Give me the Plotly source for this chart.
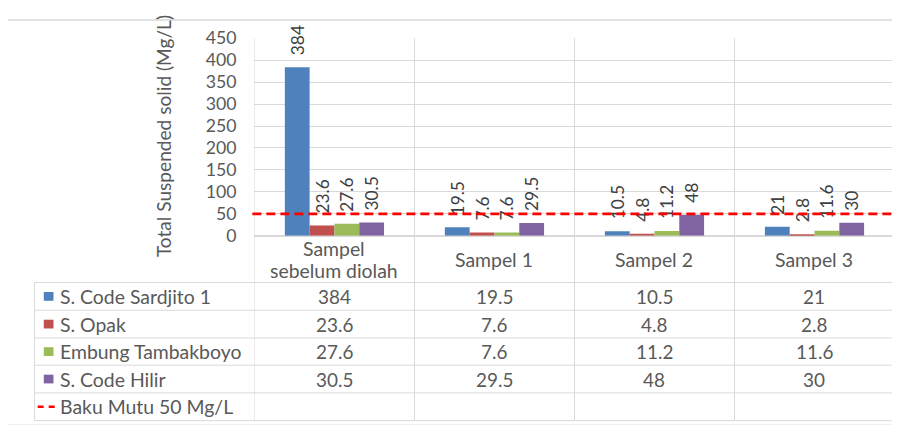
import plotly.graph_objects as go

# ---- data ----
categories = ["Sampel<br>sebelum diolah", "Sampel 1", "Sampel 2", "Sampel 3"]
series_names = ["S. Code Sardjito 1", "S. Opak", "Embung Tambakboyo", "S. Code Hilir"]
sardjito = [384, 19.5, 10.5, 21]
opak = [23.6, 7.6, 4.8, 2.8]
tambakboyo = [27.6, 7.6, 11.2, 11.6]
hilir = [30.5, 29.5, 48, 30]
baku_mutu_name = "Baku Mutu 50 Mg/L"
baku_mutu = 50
y_ticks = [0, 50, 100, 150, 200, 250, 300, 350, 400, 450]
y_title = "Total Suspended solid (Mg/L)"

series_values = [sardjito, opak, tambakboyo, hilir]
colors = ["#4F81BD", "#C0504D", "#9BBB59", "#8064A2"]

W, H = 900, 429
FONT = "Lato"
TXT = "#595959"
GRID = "#d9d9d9"

# the page is shown scaled and offset; map target pixel positions to paper coords
S, OX, OY = 0.978, 20, 8


def px(x):
    return ((x - OX) / S) / W


def py(y):
    return 1 - ((y - OY) / S) / H


def fs(size):
    return size / S


PLOT_L, PLOT_R, PLOT_T, PLOT_B = 261, 887, 27.7, 231
TABLE_L = 46
row_lines = [279, 307.5, 336, 364, 392.5, 421]
NB = "\u00a0\u00a0"

fig = go.Figure()
xs = list(range(len(categories)))
for name, vals, col in zip(series_names, series_values, colors):
    fig.add_trace(go.Bar(
        x=xs, y=vals, name=name, marker_color=col, marker_line_width=0,
        text=[f"{NB}{v:g}" for v in vals], textposition="outside", textangle=-90,
        constraintext="none", cliponaxis=False,
        textfont=dict(family=FONT, size=fs(17), color="#404040"),
        showlegend=False,
    ))

shapes = []
# outer frame (top)
shapes.append(dict(type="line", xref="paper", yref="paper", x0=0, x1=1, y0=py(9), y1=py(9),
                   line=dict(color="#e3e3e3", width=2)))
shapes.append(dict(type="line", xref="paper", yref="paper", x0=0, x1=1, y0=py(425), y1=py(425),
                   line=dict(color="#efefef", width=1)))
# vertical category boundaries (plot + table)
for i in range(len(categories) + 1):
    shapes.append(dict(type="line", xref="x", yref="paper", x0=i - 0.5, x1=i - 0.5,
                       y0=py(row_lines[-1]), y1=py(PLOT_T), line=dict(color=GRID, width=1), layer="below"))
# table left edge
shapes.append(dict(type="line", xref="paper", yref="paper", x0=px(TABLE_L), x1=px(TABLE_L),
                   y0=py(row_lines[0]), y1=py(row_lines[-1]), line=dict(color=GRID, width=1)))
# table row lines
for yy in row_lines:
    shapes.append(dict(type="line", xref="paper", yref="paper", x0=px(TABLE_L), x1=px(PLOT_R),
                       y0=py(yy), y1=py(yy), line=dict(color=GRID, width=1)))
# baku mutu line
shapes.append(dict(type="line", xref="paper", yref="y", x0=px(259), x1=px(884), y0=baku_mutu, y1=baku_mutu,
                   line=dict(color="#FF0000", width=2.7, dash="9px,5px"), layer="above"))

annotations = []
# y-axis title
annotations.append(dict(text=y_title, xref="paper", yref="paper", x=px(172), y=py(128),
                        textangle=-90, showarrow=False, font=dict(family=FONT, size=fs(18.7), color=TXT),
                        xanchor="center", yanchor="middle"))
# category labels (each line placed separately for tighter line spacing)
for i, c in enumerate(categories):
    lines = c.split("<br>")
    n = len(lines)
    for k, ln in enumerate(lines):
        yc = 255.5 + (k - (n - 1) / 2) * 22
        annotations.append(dict(text=ln, xref="x", yref="paper", x=i, y=py(yc), showarrow=False,
                                font=dict(family=FONT, size=fs(19), color=TXT),
                                xanchor="center", yanchor="middle"))
# table contents
row_centers = [(row_lines[k] + row_lines[k + 1]) / 2 for k in range(len(row_lines) - 1)]
for r, (name, vals, col) in enumerate(zip(series_names, series_values, colors)):
    yc = row_centers[r]
    shapes.append(dict(type="rect", xref="paper", yref="paper", x0=px(55), x1=px(64.5),
                       y0=py(yc + 4.5), y1=py(yc - 4.5), fillcolor=col, line=dict(width=0)))
    annotations.append(dict(text=name, xref="paper", yref="paper", x=px(69), y=py(yc), showarrow=False,
                            font=dict(family=FONT, size=fs(19), color=TXT), xanchor="left", yanchor="middle"))
    for i, v in enumerate(vals):
        annotations.append(dict(text=f"{v:g}", xref="x", yref="paper", x=i, y=py(yc), showarrow=False,
                                font=dict(family=FONT, size=fs(18.5), color=TXT), xanchor="center", yanchor="middle"))
yc = row_centers[4]
shapes.append(dict(type="line", xref="paper", yref="paper", x0=px(49), x1=px(67), y0=py(yc), y1=py(yc),
                   line=dict(color="#FF0000", width=2.5, dash="6px,5px")))
annotations.append(dict(text=baku_mutu_name, xref="paper", yref="paper", x=px(69), y=py(yc), showarrow=False,
                        font=dict(family=FONT, size=fs(19), color=TXT), xanchor="left", yanchor="middle"))

fig.update_layout(
    width=W, height=H,
    margin=dict(l=0, r=0, t=0, b=0),
    paper_bgcolor="white", plot_bgcolor="white",
    barmode="group", bargap=0.38, bargroupgap=0,
    xaxis=dict(domain=[px(PLOT_L), px(PLOT_R)], range=[-0.5, len(categories) - 0.5],
               showticklabels=False, showgrid=False, zeroline=False, fixedrange=True),
    yaxis=dict(domain=[py(PLOT_B), py(PLOT_T)], range=[0, 450], tickvals=y_ticks,
               showgrid=True, gridcolor=GRID, gridwidth=1, zeroline=True, zerolinecolor=GRID,
               tickfont=dict(family=FONT, size=fs(17.3), color=TXT), ticklabelstandoff=17, ticks=""),
    shapes=shapes, annotations=annotations,
    font=dict(family=FONT, color=TXT),
)

fig.write_html("out.html")
